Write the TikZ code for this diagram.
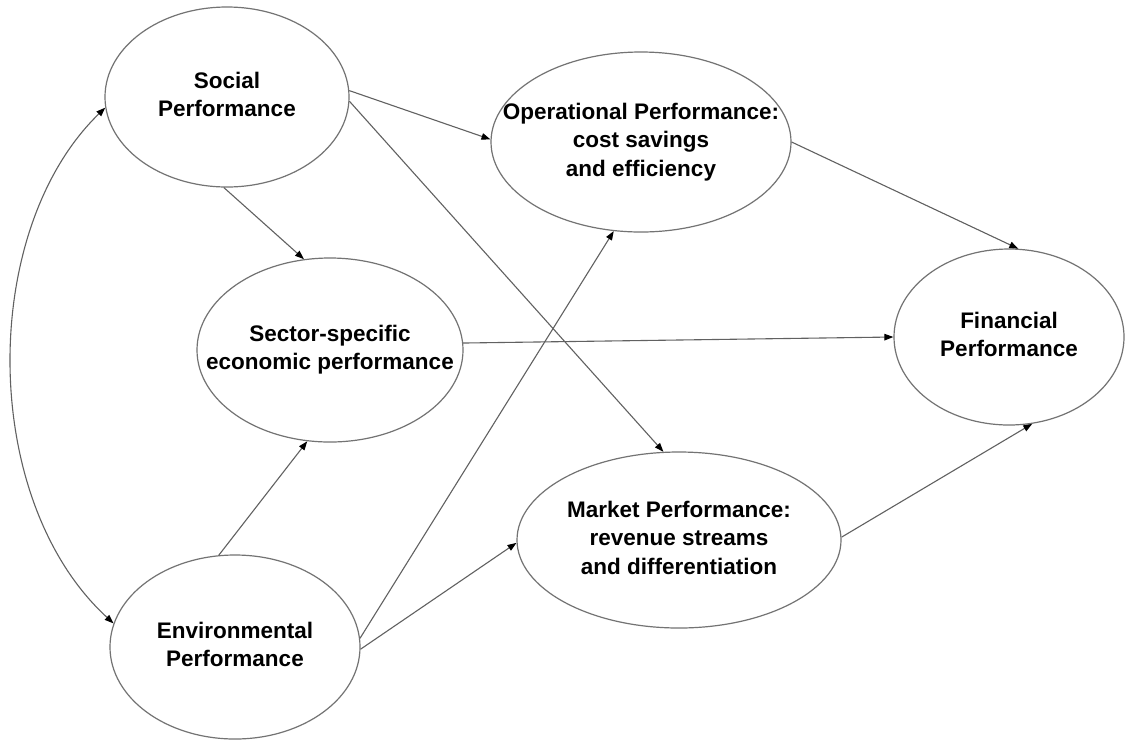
\documentclass[tikz,border=0pt]{standalone}
\usepackage{fontspec}
\setmainfont{Liberation Sans}
\usetikzlibrary{arrows.meta,shapes.geometric}
\newcommand{\lbl}[1]{\makebox[0pt]{\begin{tabular}{@{}c@{}}#1\end{tabular}}}
\begin{document}
\begin{tikzpicture}[x=1pt,y=-1pt,
  latent/.style={draw=black!55, line width=1.2pt, ellipse, inner sep=0pt,
    font=\fontsize{22.5}{28.5}\selectfont\bfseries},
  link/.style={draw=black!62, line width=1.1pt,
    -{Triangle[length=9pt,width=6.5pt,color=black]}},
  dlink/.style={draw=black!62, line width=1.1pt,
    {Triangle[length=9pt,width=6.5pt,color=black]}-{Triangle[length=9pt,width=6.5pt,color=black]}}
]
\useasboundingbox[fill=white] (0,0) rectangle (1126,740);

\node[latent, minimum width=244pt, minimum height=180pt] (S) at (227,97)
  {\lbl{Social\\Performance}};
\node[latent, minimum width=300pt, minimum height=180pt] (O) at (641,142)
  {\lbl{Operational Performance:\\cost savings\\and efficiency}};
\node[latent, minimum width=266pt, minimum height=184pt] (C) at (330,350)
  {\lbl{Sector-specific\\economic performance}};
\node[latent, minimum width=230pt, minimum height=176pt] (F) at (1009,337)
  {\lbl{Financial\\Performance}};
\node[latent, minimum width=250pt, minimum height=184pt] (E) at (235,647)
  {\lbl{Environmental\\Performance}};
\node[latent, minimum width=324pt, minimum height=176pt] (M) at (679,540)
  {\lbl{Market Performance:\\revenue streams\\and differentiation}};

\coordinate (k1) at (-21,230);
\coordinate (k2) at (-21,500);

\draw[link] (S.3) -- (O.179);
\draw[link] (S.-2) -- (M.100.7);
\draw[link] (S.-92) -- (C.106.8);
\draw[link] (C.3) -- (F.180);
\draw[link] (O.0) -- (F.84.3);
\draw[link] (M.1) -- (F.-75.4);
\draw[link] (E.100.5) -- (C.-104);
\draw[link] (E.4) -- (O.253);
\draw[link] (E.-1) -- (M.181.8);
\draw[dlink] (S.185) .. controls (k1) and (k2) .. (E.169);
\end{tikzpicture}
\end{document}
